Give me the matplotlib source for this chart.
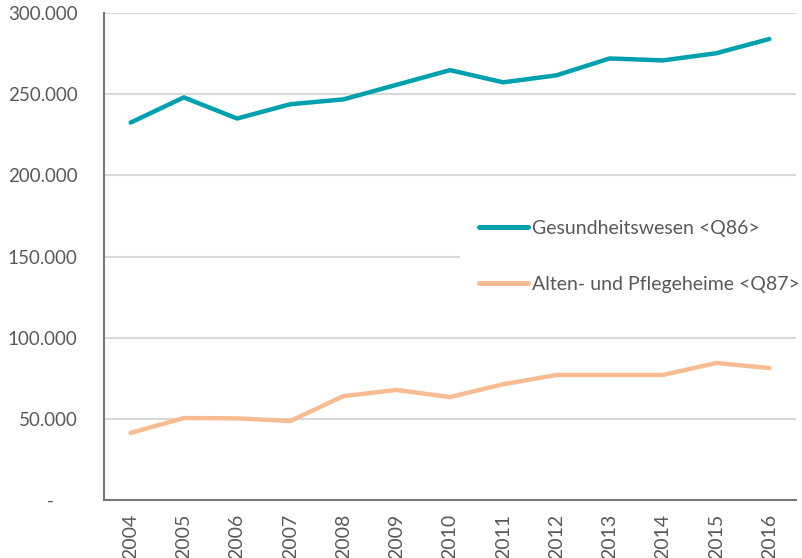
import matplotlib
matplotlib.use("Agg")
import matplotlib.pyplot as plt
from matplotlib.ticker import FuncFormatter

years = ["2004", "2005", "2006", "2007", "2008", "2009", "2010",
         "2011", "2012", "2013", "2014", "2015", "2016"]
gesundheit = [232500, 248000, 235000, 243800, 246800, 255800, 264800,
              257300, 261600, 272000, 270800, 275200, 284000]
alten = [41300, 50500, 50300, 48700, 64000, 67800, 63400,
         71300, 77000, 77000, 77000, 84400, 81300]
labels = ["Gesundheitswesen <Q86>", "Alten- und Pflegeheime <Q87>"]
colors = ["#00A0AE", "#F7BC91"]

plt.rcParams['font.family'] = ['Lato', 'DejaVu Sans']
fig = plt.figure(figsize=(8.02, 5.58), dpi=100)
ax = fig.add_axes([104/802, 58/558, 692/802, 487/558])

x = list(range(len(years)))
ax.plot(x, gesundheit, color=colors[0], lw=3.2, label=labels[0], solid_capstyle='round', zorder=3)
ax.plot(x, alten, color=colors[1], lw=3.2, label=labels[1], solid_capstyle='round', zorder=3)

ax.set_xlim(-0.5, len(years) - 0.5)
ax.set_ylim(0, 300000)
ax.set_yticks(range(0, 300001, 50000))
ax.yaxis.set_major_formatter(FuncFormatter(lambda v, p: "-     " if v == 0 else f"{int(v):,}".replace(",", ".")))
ax.set_xticks(x)
ax.set_xticklabels(years, rotation=90)

ax.grid(axis='y', color='#D9D9D9', lw=1.5, zorder=0)
ax.set_axisbelow(True)
for s in ['top', 'right']:
    ax.spines[s].set_visible(False)
for s in ['left', 'bottom']:
    ax.spines[s].set_color('#767676')
    ax.spines[s].set_linewidth(1.5)
ax.tick_params(axis='both', length=0, labelsize=14, labelcolor='#595959')
ax.tick_params(axis='y', pad=19, labelsize=13.5)
ax.tick_params(axis='x', pad=10)

leg = ax.legend(loc='center left', bbox_to_anchor=((460-104)/692, (500-256.5)/487),
                borderaxespad=0, frameon=True, facecolor='white', edgecolor='none',
                framealpha=1, fancybox=False, fontsize=14, handlelength=2.5,
                handletextpad=0.2, labelspacing=2.0, borderpad=1.0)
for t in leg.get_texts():
    t.set_color('#595959')
for h in leg.get_lines():
    h.set_linewidth(3.6)

fig.savefig("out.png", dpi=100)
